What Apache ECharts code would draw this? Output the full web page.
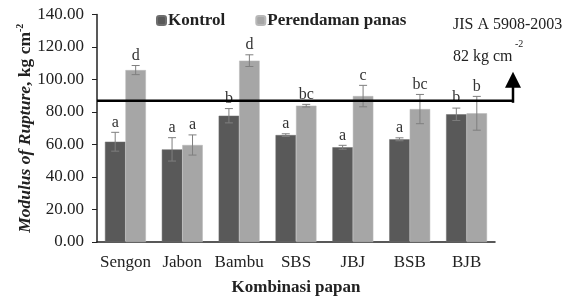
<!DOCTYPE html>
<html>
<head>
<meta charset="utf-8">
<script src="https://cdn.jsdelivr.net/npm/echarts@6/dist/echarts.min.js"></script>
<style>
  html, body { margin: 0; padding: 0; background: #fff; }
  #chart { width: 572px; height: 296px; }
</style>
</head>
<body>
<div id="chart"></div>
<script>
var categories = ["Sengon", "Jabon", "Bambu", "SBS", "JBJ", "BSB", "BJB"];
var kontrol = [61.7, 57.0, 77.7, 65.8, 58.3, 63.2, 78.6];
var kontrolErr = [5.8, 7.2, 4.4, 0.8, 1.2, 0.9, 3.8];
var kontrolLetters = ["a", "a", "b", "a", "a", "a", "b"];
var panas = [105.8, 59.7, 111.6, 83.9, 89.8, 81.8, 79.2];
var panasErr = [2.8, 6.2, 3.6, 0.8, 6.6, 9.0, 10.4];
var panasLetters = ["d", "a", "d", "bc", "c", "bc", "b"];
var yTicks = [0, 20, 40, 60, 80, 100, 120, 140];
var standardValue = 86.9; // garis standar seperti pada gambar

var font = '"Liberation Serif", "Times New Roman", serif';
var catGap = 0.28;

var myChart = echarts.init(document.getElementById("chart"));

// error bar + huruf notasi
function errRender(side, letters) {
  return function (params, api) {
    var i = api.value(0);
    var v = api.value(1);
    var e = api.value(2);
    var band = api.size([1, 0])[0];
    var off = side * band * (1 - catGap) / 4;
    var top = api.coord([i, v + e]);
    var bot = api.coord([i, v - e]);
    var x = top[0] + off;
    var cap = 4;
    var st = { stroke: "#7f7f7f", lineWidth: 1 };
    return {
      type: "group",
      children: [
        { type: "line", shape: { x1: x, y1: top[1], x2: x, y2: bot[1] }, style: st },
        { type: "line", shape: { x1: x - cap, y1: top[1], x2: x + cap, y2: top[1] }, style: st },
        { type: "line", shape: { x1: x - cap, y1: bot[1], x2: x + cap, y2: bot[1] }, style: st },
        {
          type: "text",
          style: {
            x: x, y: top[1] - 2, text: letters[i],
            align: "center", verticalAlign: "bottom",
            font: "16px " + font, fill: "#333"
          }
        }
      ]
    };
  };
}

myChart.setOption({
  backgroundColor: "#fff",
  animation: false,
  textStyle: { fontFamily: font },
  legend: {
    data: ["Kontrol", "Perendaman panas"],
    left: 151,
    top: 7,
    itemWidth: 9,
    itemHeight: 9,
    itemGap: 30,
    textStyle: { fontFamily: font, fontSize: 17, fontWeight: "bold", color: "#222", padding: [0, 0, 0, -3] }
  },
  grid: { left: 97, right: 77, top: 14.5, bottom: 54, outerBoundsMode: "none", containLabel: false },
  xAxis: {
    type: "category",
    data: categories,
    axisLine: { lineStyle: { color: "#222", width: 1.5 } },
    axisTick: { show: false },
    axisLabel: { interval: 0, fontFamily: font, fontSize: 17, color: "#222", margin: 12 },
    name: "Kombinasi papan",
    nameLocation: "middle",
    nameGap: 37,
    nameTextStyle: { fontFamily: font, fontSize: 17, fontWeight: "bold", color: "#222" }
  },
  yAxis: {
    type: "value",
    min: yTicks[0],
    max: yTicks[yTicks.length - 1],
    interval: 20,
    splitLine: { show: false },
    axisLine: { show: true, lineStyle: { color: "#222", width: 1.5 } },
    axisTick: { show: true, length: 5, lineStyle: { color: "#222" } },
    axisLabel: {
      fontFamily: font, fontSize: 17, color: "#222", margin: 13,
      formatter: function (v) { return v.toFixed(2); }
    },
    name: "{it|Modulus of Rupture}{b|, kg cm}{sup|-2}",
    nameLocation: "middle",
    nameRotate: 90,
    nameGap: 62,
    nameMoveOverlap: false,
    nameTextStyle: {
      rich: {
        it: { fontFamily: font, fontSize: 17.5, fontWeight: "bold", fontStyle: "italic", color: "#222", lineHeight: 20 },
        b: { fontFamily: font, fontSize: 17.5, fontWeight: "bold", color: "#222", lineHeight: 20 },
        sup: { fontFamily: font, fontSize: 10, fontWeight: "bold", color: "#222", verticalAlign: "top", lineHeight: 20 }
      }
    }
  },
  series: [
    {
      name: "Kontrol", type: "bar", data: kontrol,
      barGap: "0%", barCategoryGap: (catGap * 100) + "%",
      itemStyle: { color: "#595959", borderColor: "#6e6e6e", borderWidth: 0.5 }
    },
    {
      name: "Perendaman panas", type: "bar", data: panas,
      itemStyle: { color: "#a6a6a6", borderColor: "#b8b8b8", borderWidth: 0.5 }
    },
    {
      type: "custom", silent: true, z: 5,
      renderItem: errRender(-1, kontrolLetters),
      data: kontrol.map(function (v, i) { return [i, v, kontrolErr[i]]; })
    },
    {
      type: "custom", silent: true, z: 5,
      renderItem: errRender(1, panasLetters),
      data: panas.map(function (v, i) { return [i, v, panasErr[i]]; })
    }
  ]
});

// garis standar JIS + panah
var yStd = myChart.convertToPixel({ yAxisIndex: 0 }, standardValue);
var x0 = 97;
var xArrow = 513;
myChart.setOption({
  graphic: [
    { type: "line", z: 10, shape: { x1: x0, y1: yStd, x2: xArrow + 1, y2: yStd }, style: { stroke: "#000", lineWidth: 2.5 } },
    { type: "line", z: 10, shape: { x1: xArrow, y1: yStd + 2, x2: xArrow, y2: yStd - 20 }, style: { stroke: "#000", lineWidth: 2.5 } },
    { type: "polygon", z: 10, shape: { points: [[xArrow - 8, yStd - 13], [xArrow + 8, yStd - 13], [xArrow, yStd - 29]] }, style: { fill: "#000" } },
    { type: "text", z: 10, style: { x: 453, y: 25, text: "JIS A 5908-2003", font: "16px " + font, fill: "#222", verticalAlign: "middle" } },
    { type: "text", z: 10, style: { x: 453, y: 57, text: "82 kg cm", font: "16px " + font, fill: "#222", verticalAlign: "middle" } },
    { type: "text", z: 10, style: { x: 515, y: 44, text: "-2", font: "10px " + font, fill: "#222", verticalAlign: "middle" } }
  ]
});
</script>
</body>
</html>
